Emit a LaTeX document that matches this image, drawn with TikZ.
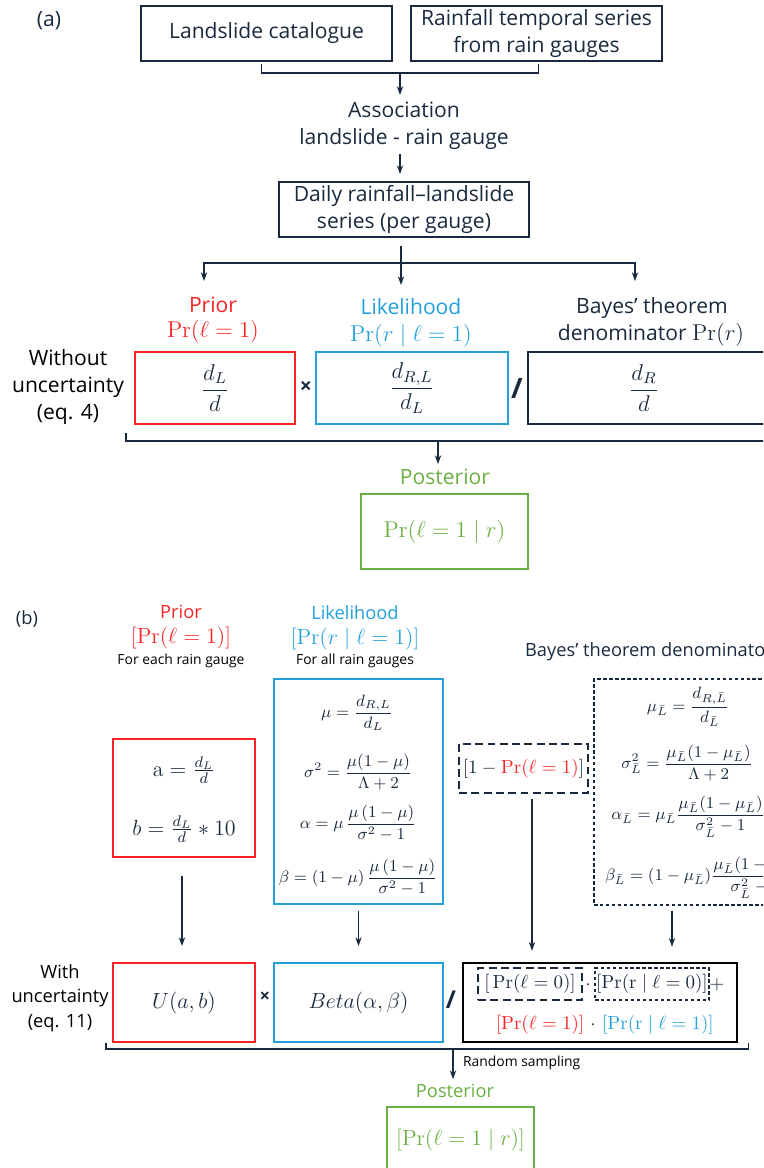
\RequirePackage{fix-cm}
\documentclass[tikz,border=0pt]{standalone}
\usepackage{amsmath}
\usepackage{fontspec}
\newfontfamily\osans{Open Sans}
\usetikzlibrary{arrows.meta,calc}

\definecolor{navy}{RGB}{25,42,62}
\definecolor{prred}{RGB}{250,35,35}
\definecolor{lkblue}{RGB}{35,160,220}
\definecolor{pogreen}{RGB}{105,175,65}

\tikzset{
	sz/.style 2 args={minimum width=#1*0.02cm, minimum height=#2*0.02cm},
	wire/.style={draw=navy, line width=0.8pt},
	arr/.style={wire, -{Stealth[length=5pt,width=3.6pt]}},
	box/.style={draw=navy, line width=1.1pt, inner sep=0pt, align=center, text=navy},
	bigtxt/.style={font=\osans\fontsize{12}{15.5}\selectfont},
	hdr/.style={font=\osans\fontsize{10.4}{14}\selectfont},
	smalltxt/.style={font=\osans\fontsize{7.9}{10}\selectfont},
	lbl/.style={text=navy, align=center, inner sep=1pt},
	mathA/.style={font=\fontsize{13}{16}\selectfont},
	mathB/.style={font=\fontsize{9.4}{12}\selectfont},
	mathC/.style={font=\fontsize{12.5}{15}\selectfont},
	mathD/.style={font=\fontsize{10.8}{13}\selectfont},
	opsign/.style={lbl, font=\osans\bfseries\fontsize{#1}{#1}\selectfont},
	dashA/.style={dash pattern=on 4.5pt off 2.5pt},
	dashB/.style={dash pattern=on 2pt off 1.4pt},
}

\begin{document}
\begin{tikzpicture}[x=0.02cm, y=-0.02cm]
		\useasboundingbox (0,0) rectangle (763,1168);
		\clip (0,0) rectangle (763,1168);

		% (a) without uncertainty
		\node[lbl, bigtxt] (tagA) at (49,21) {(a)};
		\node[box, bigtxt, sz={251}{55}] (catalog) at (266.5,33.5) {Landslide catalogue};
		\node[box, bigtxt, sz={251}{55}] (series) at (536.5,33.5) {Rainfall temporal series\\from rain gauges};
		\coordinate (joinA) at (400,73);
		\draw[wire] ($(catalog.south)+(-5,2)$) |- (joinA) -| ($(series.south)+(2,2)$);
		\node[lbl, bigtxt] (assoc) at (404,126) {Association\\landslide - rain gauge};
		\draw[arr] (joinA) -- ($(joinA |- assoc.north)+(0,-5)$);
		\node[box, bigtxt, sz={250}{55}] (daily) at (404,209.5) {Daily rainfall–landslide\\series (per gauge)};
		\draw[arr] ($(assoc.south -| joinA)+(0,2)$) -- ($(daily.north -| joinA)+(0,-7)$);

		\coordinate (forkA) at (401,263);
		\coordinate (priorTip) at (204,281);
		\coordinate (likeTip) at (401,285);
		\coordinate (denTip) at (635,281);
		\draw[arr] ($(daily.south -| forkA)+(0,8)$) -- (likeTip);
		\draw[arr] (forkA) -| (priorTip);
		\draw[arr] (forkA) -| (denTip);

		\node[lbl, bigtxt, text=prred] (priorA) at (213,305) {Prior};
		\node[lbl, mathA, text=prred] (priorAf) at (213,332) {$\Pr(\ell = 1)$};
		\node[lbl, bigtxt, text=lkblue] (likeA) at (411,307) {Likelihood};
		\node[lbl, mathA, text=lkblue] (likeAf) at (411,336) {$\Pr(r \mid \ell = 1)$};
		\node[lbl, bigtxt] (bayesA) at (652,308) {Bayes’ theorem};
		\node[lbl, bigtxt] (bayesAf) at (651,335) {denominator {\fontsize{13}{16}\selectfont$\Pr(r)$}};

		\node[lbl, bigtxt, text=black] (withoutA) at (68,387) {Without\\uncertainty\\(eq. 4)};
		\node[box, draw=prred, sz={160}{72}, mathA] (priorboxA) at (215,388) {$\dfrac{d_L}{d}$};
		\node[opsign=12] (timesA) at (306,387) {×};
		\node[box, draw=lkblue, sz={192}{72}, mathA] (likeboxA) at (412,388) {$\dfrac{d_{R,L}}{d_L}$};
		\node[opsign=16] (divA) at (517,388) {/};
		\node[box, sz={238}{72}] (denboxA) at (647,388) {};
		\node[lbl, mathA] (denA) at (644,388) {$\dfrac{d_R}{d}$};

		\coordinate (joinB) at (438,440);
		\draw[wire] ($(priorboxA.south west)+(-8,8)$) |- ($(denboxA.south east)+(10,16)$);
		\node[lbl, bigtxt, text=pogreen] (postA) at (445,477) {Posterior};
		\draw[arr] (joinB) -- ($(joinB |- postA.north)+(0,-3)$);
		\node[box, draw=pogreen, sz={167}{75}, mathA, text=pogreen] (postboxA) at (444.5,531.5) {$\Pr(\ell = 1 \mid r)$};

		% (b) with uncertainty
		\node[lbl, hdr] (tagB) at (27,619) {(b)};
		\node[lbl, hdr, text=prred] (priorB) at (181,612) {Prior};
		\node[lbl, mathC, text=prred] (priorBf) at (181,638) {$[\Pr(\ell = 1)]$};
		\node[lbl, smalltxt, text=black] (priorBn) at (181,661) {For each rain gauge};
		\node[lbl, hdr, text=lkblue] (likeB) at (355,613) {Likelihood};
		\node[lbl, mathC, text=lkblue] (likeBf) at (355,639) {$[\Pr(r \mid \ell = 1)]$};
		\node[lbl, smalltxt, text=black] (likeBn) at (355,661) {For all rain gauges};
		\node[lbl, hdr, anchor=west] (bayesB) at (523,652) {Bayes’ theorem denominator};

		\node[box, draw=prred, sz={142}{118}] (priorboxB) at (184,798) {};
		\node[lbl, mathC] (aeq) at (184,770) {$\mathrm{a} = \frac{d_L}{d}$};
		\node[lbl, mathC] (beq) at (184,829) {$b = \frac{d_L}{d} * 10$};

		\node[box, draw=lkblue, sz={169}{225}] (likeboxB) at (358.5,791.5) {};
		\node[lbl, mathB] (mueq) at (357,713) {$\mu = \dfrac{d_{R,L}}{d_L}$};
		\node[lbl, mathB] (sigeq) at (358,772) {$\sigma^2 = \dfrac{\mu(1-\mu)}{\Lambda+2}$};
		\node[lbl, mathB] (alpeq) at (358,823) {$\alpha = \mu\,\dfrac{\mu\,(1-\mu)}{\sigma^2-1}$};
		\node[lbl, mathB] (beteq) at (358,877) {$\beta = (1-\mu)\,\dfrac{\mu\,(1-\mu)}{\sigma^2-1}$};

		\node[box, dashA, sz={129}{49}, mathD] (compB) at (523.5,768.5) {$[1 - \textcolor{prred}{\Pr(\ell = 1)}]$};
		\node[box, dashB, sz={192}{226}] (denboxB) at (690,792) {};
		\node[lbl, mathB] (muL) at (688,707) {$\mu_{\bar L} = \dfrac{d_{R,\bar L}}{d_{\bar L}}$};
		\node[lbl, mathB] (sigL) at (687,763) {$\sigma_{\bar L}^2 = \dfrac{\mu_{\bar L}(1-\mu_{\bar L})}{\Lambda+2}$};
		\node[lbl, mathB] (alpL) at (688,817) {$\alpha_{\bar L} = \mu_{\bar L}\dfrac{\mu_{\bar L}(1-\mu_{\bar L})}{\sigma_{\bar L}^2-1}$};
		\node[lbl, mathB, anchor=west] (betL) at (603,878) {$\beta_{\bar L} = (1-\mu_{\bar L})\dfrac{\mu_{\bar L}(1-\mu_{\bar L})}{\sigma_{\bar L}^2-1}$};

		\node[lbl, hdr, text=black] (withB) at (60,998) {With\\uncertainty\\(eq. 11)};
		\node[box, draw=prred, sz={142}{79}, mathC] (priorU) at (184,1002.5) {$U(a,b)$};
		\node[opsign=10.5] (timesB) at (265,997) {×};
		\node[box, draw=lkblue, sz={169}{79}, mathC] (likeU) at (358.5,1002.5) {$Beta(\alpha,\beta)$};
		\node[opsign=14] (divB) at (451,1000) {/};
		\node[box, draw=black, line width=1.4pt, sz={274}{79}] (denU) at (600,1002.5) {};
		\node[box, dashA, line width=1pt, sz={104}{32}, mathD] (prZero) at (530,984) {$[\,\Pr(\ell = 0)]$};
		\node[lbl, mathD] (dotA) at (588,985) {$\cdot$};
		\node[box, dashB, line width=1pt, sz={114}{32}, mathD] (likZero) at (652,984) {$[\Pr(\mathrm{r} \mid \ell = 0)]$};
		\node[lbl, mathD] (plusB) at (717,985) {$+$};
		\node[lbl, mathD, text=prred] (prOne) at (540,1025) {$[\Pr(\ell = 1)]$};
		\node[lbl, mathD] (dotB) at (593,1025) {$\cdot$};
		\node[lbl, mathD, text=lkblue] (likOne) at (658,1025) {$[\Pr(\mathrm{r} \mid \ell = 1)]$};

		\draw[arr] ($(priorboxB.south)+(-2,18)$) -- ($(priorU.north)+(-2,-16)$);
		\draw[arr] ($(likeboxB.south)+(0,6)$) -- ($(likeU.north)+(0,-16)$);
		\draw[arr] ($(compB.south)+(8.5,5)$) -- ($(compB.south |- denU.north)+(8.5,-11)$);
		\draw[arr] ($(denboxB.south)+(-18,5)$) -- ($(denboxB.south |- denU.north)+(-18,-15)$);

		\coordinate (joinC) at (453,1049);
		\draw[wire] ($(priorU.south west)+(-6,0)$) |- (joinC) -| ($(denU.south east)+(10,0)$);
		\node[lbl, hdr, text=pogreen] (postB) at (455,1091) {Posterior};
		\draw[arr] (joinC) -- ($(joinC |- postB.north)+(0,-3)$);
		\node[lbl, smalltxt, text=black, anchor=west] (sampling) at (461,1063) {Random sampling};
		\node[box, draw=pogreen, sz={147}{66}, mathC, text=pogreen] (postboxB) at (460.5,1140) {$[\Pr(\ell = 1 \mid r)]$};

	\end{tikzpicture}
\end{document}
